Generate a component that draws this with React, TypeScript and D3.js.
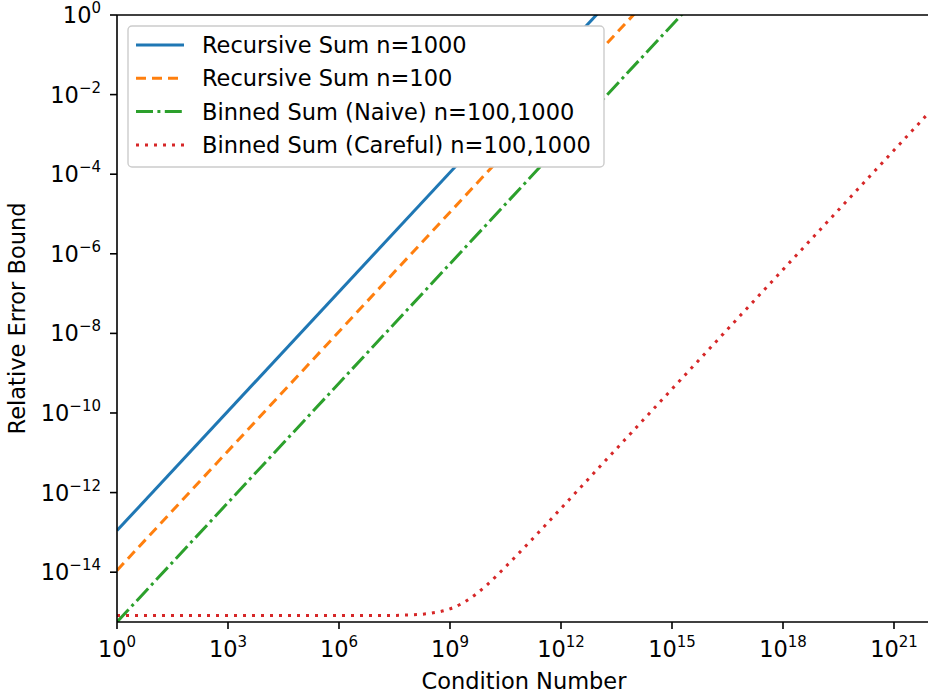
import React from "react";
import * as d3 from "d3";

// condition number range shown (x) and error bound range (y)
const xLimits = [1, 1e22];
const yLimits = [5.6e-16, 1];

const xTickExps = [0, 3, 6, 9, 12, 15, 18, 21];
const yTickExps = [0, -2, -4, -6, -8, -10, -12, -14];

// straight lines on log-log: two end points each
const lineX = [1, 1e22];
const recursive1000 = [1.11e-13, 1.11e9];
const recursive100 = [1.11e-14, 1.11e8];
const binnedNaive = [5.6e-16, 5.6e6];

// careful binned sum: flat floor, then slope 1
const carefulX = [1, 1e4, 1e7, 1e8, 3e8, 1e9, 2e9, 3e9, 5e9, 1e10, 3e10, 1e11, 3e11, 1e12, 1e13, 1e14, 1e16, 1e18, 1e20, 1e22];
const carefulY = [8.1e-16, 8.1e-16, 8.1e-16, 8.5e-16, 9.3e-16, 1.2e-15, 1.6e-15, 2.0e-15, 2.8e-15, 4.8e-15, 1.3e-14, 4.1e-14, 1.2e-13, 4.0e-13, 4.0e-12, 4.0e-11, 4.0e-9, 4.0e-7, 4.0e-5, 4.0e-3];

const series = [
  { name: "Recursive Sum n=1000", color: "#1f77b4", dash: null, xs: lineX, ys: recursive1000 },
  { name: "Recursive Sum n=100", color: "#ff7f0e", dash: "10 6", xs: lineX, ys: recursive100 },
  { name: "Binned Sum (Naive) n=100,1000", color: "#2ca02c", dash: "17 4.4 3 4.4", xs: lineX, ys: binnedNaive },
  { name: "Binned Sum (Careful) n=100,1000", color: "#d62728", dash: "3 6", xs: carefulX, ys: carefulY },
];

const left = 117;
const right = 931;
const top = 15;
const bottom = 622;
const font = "DejaVu Sans, sans-serif";
const fs = 22.5;
const sup = 15;
const lw = 3;

const App = () => {
  const x = d3.scaleLog().domain(xLimits).range([left, right]);
  const y = d3.scaleLog().domain(yLimits).range([bottom, top]);

  const line = d3
    .line<[number, number]>()
    .x((d) => x(d[0]))
    .y((d) => y(d[1]))
    .curve(d3.curveMonotoneX);

  return (
    <svg width={928} height={700} style={{ position: "absolute", left: 0, top: 0, fontFamily: font }}>
      <rect width={928} height={700} fill="#fff" />
      <defs>
        <clipPath id="plot">
          <rect x={left} y={top} width={right - left} height={bottom - top} />
        </clipPath>
      </defs>

      <g clipPath="url(#plot)">
        {series.map((s, i) => (
          <path
            key={i}
            d={line(s.xs.map((v, j) => [v, s.ys[j]] as [number, number])) || ""}
            fill="none"
            stroke={s.color}
            strokeWidth={lw}
            strokeDasharray={s.dash || undefined}
          />
        ))}
      </g>

      {/* spines */}
      <g stroke="#000" strokeWidth={1.6} fill="none">
        <line x1={left} x2={left} y1={top} y2={bottom} />
        <line x1={left} x2={right} y1={bottom} y2={bottom} />
        <line x1={left} x2={right} y1={top} y2={top} />
        <line x1={right} x2={right} y1={top} y2={bottom} />
      </g>

      {/* x axis */}
      {xTickExps.map((e) => (
        <g key={e} transform={`translate(${x(Math.pow(10, e))},${bottom})`}>
          <line y2={7} stroke="#000" strokeWidth={1.6} />
          <text y={35} textAnchor="middle" fontSize={fs} fill="#000">
            <tspan>10</tspan>
            <tspan dy={-10} fontSize={sup}>{e}</tspan>
          </text>
        </g>
      ))}
      <text x={(left + right) / 2} y={689} textAnchor="middle" fontSize={fs}>
        Condition Number
      </text>

      {/* y axis */}
      {yTickExps.map((e) => (
        <g key={e} transform={`translate(${left},${y(Math.pow(10, e))})`}>
          <line x2={-7} stroke="#000" strokeWidth={1.6} />
          <text x={-16} y={8} textAnchor="end" fontSize={fs} fill="#000">
            <tspan>10</tspan>
            <tspan dy={-10} fontSize={sup}>{e < 0 ? "\u2212" + Math.abs(e) : e}</tspan>
          </text>
        </g>
      ))}
      <text transform={`translate(25,${(top + bottom) / 2}) rotate(-90)`} textAnchor="middle" fontSize={fs}>
        Relative Error Bound
      </text>

      {/* legend */}
      <g>
        <rect x={128} y={26} width={476} height={141} rx={4} fill="#fff" stroke="#ccc" strokeWidth={1.4} />
        {series.map((s, i) => {
          const cy = 45 + i * 33.3;
          return (
            <g key={i}>
              <line
                x1={136}
                x2={184}
                y1={cy}
                y2={cy}
                stroke={s.color}
                strokeWidth={lw}
                strokeDasharray={s.dash || undefined}
              />
              <text x={202} y={cy + 8} fontSize={fs}>
                {s.name}
              </text>
            </g>
          );
        })}
      </g>
    </svg>
  );
};

export default App;
